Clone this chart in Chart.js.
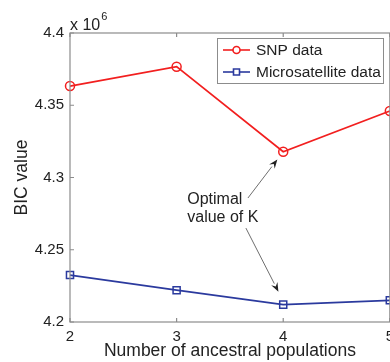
<!DOCTYPE html>
<html>
<head>
<meta charset="utf-8">
<script src="https://cdn.jsdelivr.net/npm/chart.js@4/dist/chart.umd.min.js"></script>
<style>
  html, body { margin: 0; padding: 0; background: #fff; overflow: hidden; }
  #wrap { width: 400px; height: 362px; position: relative; }
</style>
</head>
<body>
<div id="wrap"><canvas id="c" width="400" height="362"></canvas></div>
<script>
// ---- data ----
const categories = [2, 3, 4, 5];
const snpValues = [4363300, 4376700, 4317800, 4346000];
const microValues = [4232500, 4222000, 4212000, 4215000];
const yTicks = [4200000, 4250000, 4300000, 4350000, 4400000];
const seriesLabels = ['SNP data', 'Microsatellite data'];
const xTitle = 'Number of ancestral populations';
const yTitle = 'BIC value';
const annotationText = ['Optimal', 'value of K'];
// annotation anchor points in data units [x, y]
const annTextPos = [3.1, 4284800];
const arrowUp = { from: [3.669, 4285800], to: [3.945, 4312500] };
const arrowDown = { from: [3.65, 4265000], to: [3.955, 4221000] };

const RED = '#f21f1f';
const BLUE = '#2b3a9e';
const FONT = '"Liberation Sans", Arial, Helvetica, sans-serif';

const framePlugin = {
  id: 'frame',
  afterDraw(chart) {
    const { ctx, chartArea: a, scales } = chart;
    const xs = scales.x, ys = scales.y;
    ctx.save();
    // frame
    ctx.strokeStyle = '#8c8c8c';
    ctx.lineWidth = 1.2;
    ctx.strokeRect(a.left, a.top, a.right - a.left, a.bottom - a.top);
    // inside ticks
    ctx.beginPath();
    categories.forEach(v => {
      const px = xs.getPixelForValue(v);
      ctx.moveTo(px, a.bottom); ctx.lineTo(px, a.bottom - 4);
      ctx.moveTo(px, a.top); ctx.lineTo(px, a.top + 4);
    });
    yTicks.forEach(v => {
      const py = ys.getPixelForValue(v);
      ctx.moveTo(a.left, py); ctx.lineTo(a.left + 4, py);
    });
    ctx.stroke();

    // exponent label
    ctx.fillStyle = '#222';
    ctx.font = '16px ' + FONT;
    ctx.textBaseline = 'alphabetic';
    ctx.textAlign = 'left';
    ctx.fillText('x 10', a.left, a.top - 3);
    const w = ctx.measureText('x 10').width;
    ctx.font = '11px ' + FONT;
    ctx.fillText('6', a.left + w + 1, a.top - 13);

    // legend
    const lx = 217, ly = 38, lw = 166, lh = 45;
    ctx.fillStyle = '#fff';
    ctx.fillRect(lx, ly, lw, lh);
    ctx.strokeStyle = '#8c8c8c';
    ctx.lineWidth = 1;
    ctx.strokeRect(lx + 0.5, ly + 0.5, lw, lh);
    chart.data.datasets.forEach((ds, i) => {
      const yy = ly + 12 + i * 22;
      ctx.strokeStyle = ds.borderColor;
      ctx.lineWidth = 1.6;
      ctx.beginPath(); ctx.moveTo(lx + 6, yy); ctx.lineTo(lx + 33, yy); ctx.stroke();
      const cx = lx + 19.5;
      ctx.fillStyle = '#fff';
      ctx.beginPath();
      if (ds.pointStyle === 'circle') { ctx.arc(cx, yy, 3.5, 0, Math.PI * 2); }
      else { ctx.rect(cx - 3, yy - 3, 6, 6); }
      ctx.fill(); ctx.stroke();
      ctx.fillStyle = '#222';
      ctx.font = '15.5px ' + FONT;
      ctx.textBaseline = 'middle';
      ctx.fillText(ds.label, lx + 39, yy + 1);
    });

    // annotation text
    const tx = xs.getPixelForValue(annTextPos[0]);
    const ty = ys.getPixelForValue(annTextPos[1]);
    ctx.fillStyle = '#222';
    ctx.font = '16px ' + FONT;
    ctx.textBaseline = 'middle';
    ctx.textAlign = 'left';
    ctx.fillText(annotationText[0], tx, ty);
    ctx.fillText(annotationText[1], tx, ty + 18);

    // arrows
    function arrow(ar) {
      const x1 = xs.getPixelForValue(ar.from[0]), y1 = ys.getPixelForValue(ar.from[1]);
      const x2 = xs.getPixelForValue(ar.to[0]), y2 = ys.getPixelForValue(ar.to[1]);
      const ang = Math.atan2(y2 - y1, x2 - x1);
      const hl = 9, hw = 3.5;
      const bx = x2 - hl * Math.cos(ang), by = y2 - hl * Math.sin(ang);
      ctx.strokeStyle = '#6e6e6e';
      ctx.lineWidth = 1;
      ctx.beginPath(); ctx.moveTo(x1, y1); ctx.lineTo(bx, by); ctx.stroke();
      ctx.fillStyle = '#222';
      ctx.beginPath();
      ctx.moveTo(x2, y2);
      ctx.lineTo(bx + hw * Math.sin(ang), by - hw * Math.cos(ang));
      ctx.lineTo(bx + 0.35 * hl * Math.cos(ang), by + 0.35 * hl * Math.sin(ang));
      ctx.lineTo(bx - hw * Math.sin(ang), by + hw * Math.cos(ang));
      ctx.closePath();
      ctx.fill();
    }
    arrow(arrowUp);
    arrow(arrowDown);
    ctx.restore();
  }
};

new Chart(document.getElementById('c'), {
  type: 'line',
  data: {
    datasets: [
      {
        label: seriesLabels[0],
        data: categories.map((c, i) => ({ x: c, y: snpValues[i] })),
        borderColor: RED, backgroundColor: 'rgba(0,0,0,0)',
        borderWidth: 1.8, pointStyle: 'circle', pointRadius: 4.5,
        pointBorderWidth: 1.5, pointBackgroundColor: 'rgba(0,0,0,0)', tension: 0
      },
      {
        label: seriesLabels[1],
        data: categories.map((c, i) => ({ x: c, y: microValues[i] })),
        borderColor: BLUE, backgroundColor: 'rgba(0,0,0,0)',
        borderWidth: 1.8, pointStyle: 'rect', pointRadius: 5,
        pointBorderWidth: 1.5, pointBackgroundColor: 'rgba(0,0,0,0)', tension: 0
      }
    ]
  },
  options: {
    responsive: false,
    animation: false,
    clip: false,
    layout: { padding: { top: 33, right: 10, left: 0, bottom: 0 } },
    plugins: { legend: { display: false }, tooltip: { enabled: false } },
    scales: {
      x: {
        type: 'linear', min: 2, max: 5,
        afterFit(s) { s.height = 40; },
        afterBuildTicks(s) { s.ticks = categories.map(v => ({ value: v })); },
        grid: { display: false, drawTicks: false },
        border: { display: false },
        ticks: {
          color: '#222', font: { family: FONT, size: 15 }, padding: 6,
          callback: v => String(v), maxRotation: 0, autoSkip: false
        },
        title: {
          display: true, text: xTitle, color: '#222',
          font: { family: FONT, size: 17.5 }, padding: { top: 0, bottom: 0 }
        }
      },
      y: {
        type: 'linear', min: 4200000, max: 4400000,
        afterFit(s) { s.width = 70; },
        afterBuildTicks(s) { s.ticks = yTicks.map(v => ({ value: v })); },
        grid: { display: false, drawTicks: false },
        border: { display: false },
        ticks: {
          color: '#222', font: { family: FONT, size: 15 }, padding: 6,
          callback: v => String(parseFloat((v / 1e6).toFixed(2)))
        },
        title: {
          display: true, text: yTitle, color: '#222',
          font: { family: FONT, size: 17.5 }, padding: { top: 12, bottom: 0 }
        }
      }
    }
  },
  plugins: [framePlugin]
});
</script>
</body>
</html>
